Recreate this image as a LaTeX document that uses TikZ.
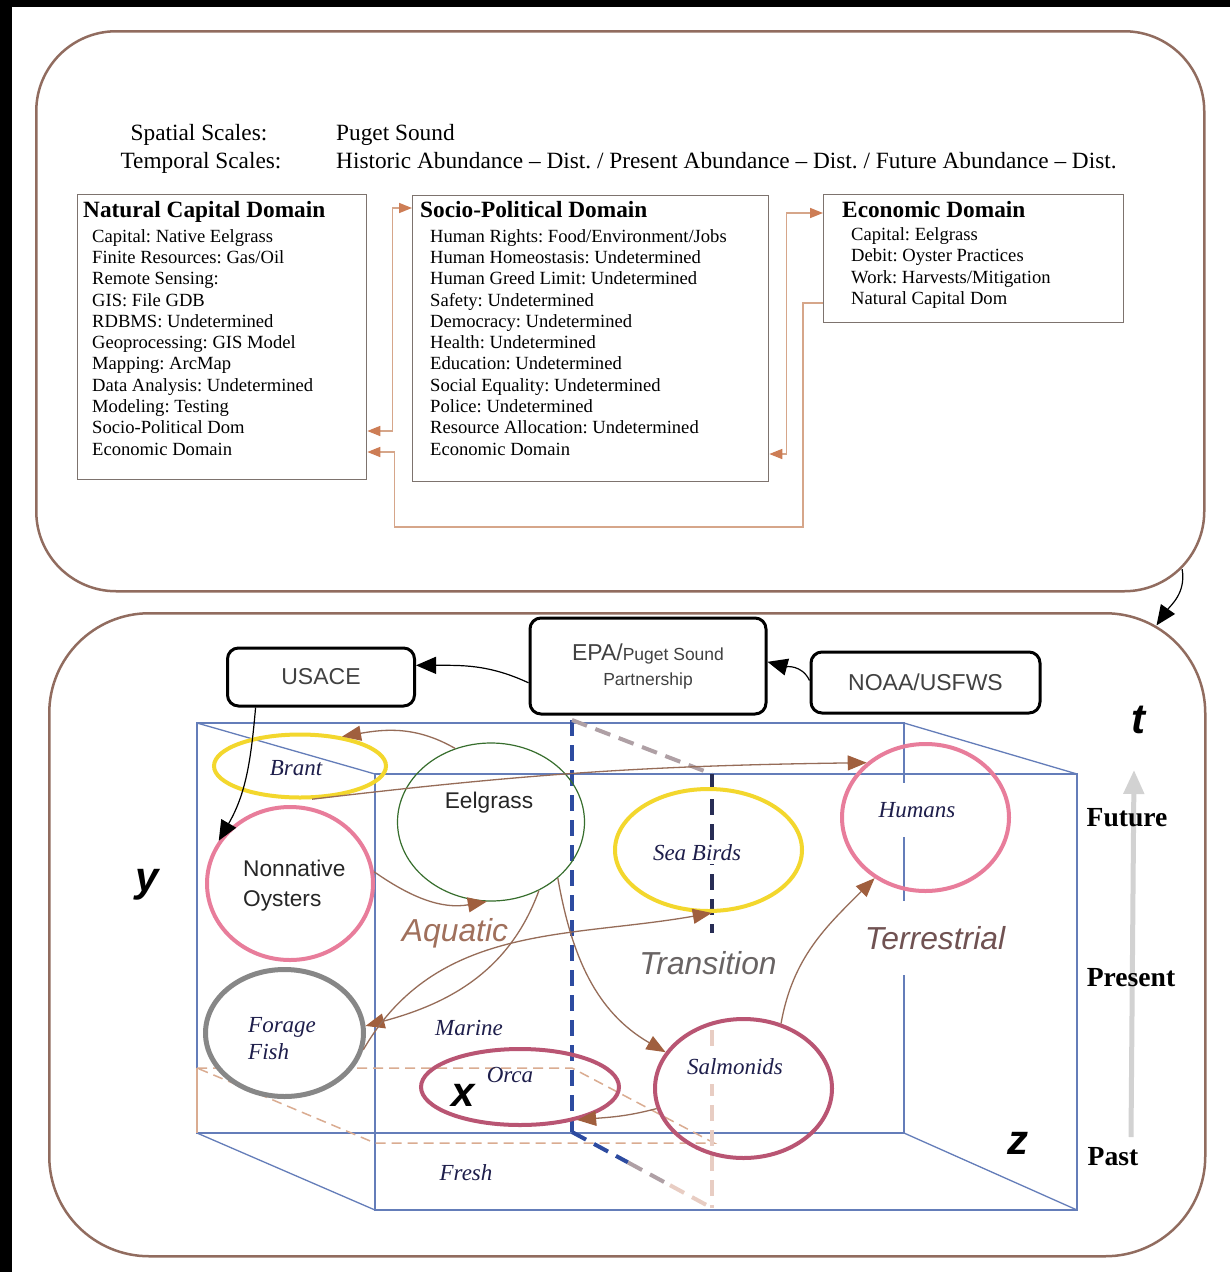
\documentclass[tikz,border=0pt]{standalone}
\usepackage{fontspec}
\setmainfont{Liberation Serif}
\setsansfont{Liberation Sans}
\frenchspacing
\usetikzlibrary{positioning, shapes.geometric, arrows.meta, calc}
\definecolor{PanelBrown}{RGB}{145,108,95}
\definecolor{DomGray}{RGB}{125,115,110}
\definecolor{TanLine}{RGB}{214,166,138}
\definecolor{TanHead}{RGB}{205,125,85}
\definecolor{AgencyText}{RGB}{65,65,65}
\definecolor{CubeBlue}{RGB}{100,125,185}
\definecolor{NavyDash}{RGB}{45,75,160}
\definecolor{DarkNavy}{RGB}{40,45,85}
\definecolor{DashGray}{RGB}{175,160,165}
\definecolor{DashPink}{RGB}{232,205,195}
\definecolor{WaterTan}{RGB}{218,172,145}
\definecolor{FlowBrown}{RGB}{150,108,88}
\definecolor{FlowHead}{RGB}{160,95,62}
\definecolor{BrantYellow}{RGB}{243,215,45}
\definecolor{RingPink}{RGB}{232,125,155}
\definecolor{RingMauve}{RGB}{185,85,115}
\definecolor{RingGray}{RGB}{135,135,135}
\definecolor{EelGreen}{RGB}{55,110,45}
\definecolor{LabelNavy}{RGB}{30,30,75}
\definecolor{AquaBrown}{RGB}{160,112,92}
\definecolor{TransGray}{RGB}{105,100,100}
\definecolor{TerrBrown}{RGB}{112,82,82}
\definecolor{TimeGray}{RGB}{210,210,210}
\newcommand{\domhead}[1]{{\fontsize{23.3}{26}\selectfont\bfseries #1}}

\begin{document}
\begin{tikzpicture}[x=1pt, y=-1pt,
      panel/.style={draw=PanelBrown, line width=2.5pt, inner sep=0pt, anchor=north west},
      dombox/.style={draw=DomGray, line width=1.3pt, inner sep=0pt, anchor=north west},
      domtext/.style={inner sep=0pt, align=left, font=\fontsize{18.6}{21.3}\selectfont},
      hdr/.style={inner sep=0pt, font=\fontsize{23.3}{28}\selectfont},
      tanlink/.style={draw=TanLine, line width=1.6pt},
      agency/.style={draw, line width=3pt, rounded corners=11pt, inner sep=0pt, text=AgencyText,
      font=\sffamily\fontsize{23}{28}\selectfont},
      blackarrow/.style={line width=1.2pt, -{Triangle[length=20pt, width=17pt]}},
      ring/.style={ellipse, draw=#1, line width=4pt, inner sep=0pt},
      flow/.style={draw=FlowBrown, line width=1.3pt, -{Triangle[length=19pt, width=15pt, color=FlowHead]}},
      cube/.style={draw=CubeBlue, line width=1.3pt},
      tdash/.style={line width=4pt, dash pattern=on 16pt off 9pt},
      waterdash/.style={draw=WaterTan, line width=1.5pt, dash pattern=on 10pt off 6pt},
      serlab/.style={inner sep=0pt, text=LabelNavy, font=\fontsize{23}{27}\selectfont\itshape},
      sanslab/.style={inner sep=0pt, text=black!85, font=\sffamily\fontsize{22.7}{30}\selectfont},
      zonelab/.style={inner sep=1pt, font=\sffamily\itshape\fontsize{31.8}{34}\selectfont},
      axislab/.style={inner sep=0pt, font=\sffamily\bfseries\itshape\fontsize{42}{42}\selectfont},
      timelab/.style={inner sep=0pt, font=\bfseries\fontsize{27.6}{30}\selectfont},
      timearrow/.style={draw=TimeGray, line width=5pt, -{Triangle[length=24pt, width=20pt]}}
    ]
      \useasboundingbox (0,0) rectangle (1230,1272);
      \fill[black] (0,0) rectangle (1230,1272);
      \fill[white] (12,7) rectangle (1230,1272);

      % two panels
      \node[panel, rounded corners=80pt, minimum width=1168, minimum height=560] (toppanel) at (35,30) {};
      \node[panel, rounded corners=100pt, minimum width=1156, minimum height=643] (botpanel) at (48,612) {};
      \coordinate (topexit) at ($(toppanel.south east)+(-23.4,-23.4)$);
      \coordinate (botentry) at ($(botpanel.north east)+(-50,13.4)$);
      \draw[blackarrow] (topexit) to[out=-80, in=55] (botentry);

      % scales
      \node[hdr, anchor=base] (spatial) at (199,140) {Spatial Scales:};
      \node[hdr, anchor=base west] (spatialval) at (336,140) {Puget Sound};
      \node[hdr, anchor=base] (temporal) at (201,168) {Temporal Scales:};
      \node[hdr, anchor=base west] (temporalval) at (336,168)
        {Historic Abundance -- Dist. / Present Abundance -- Dist. / Future Abundance -- Dist.};

      % domains
      \node[dombox, minimum width=289, minimum height=285] (nat) at (77,194) {};
      \node[dombox, minimum width=356, minimum height=286] (soc) at (412,195) {};
      \node[dombox, minimum width=300, minimum height=128] (econ) at (823,194) {};
      \node[domtext, below right=7.3pt and 6pt of nat.north west] (nattext) {\domhead{Natural Capital Domain}\\[3.2pt]
        \hspace*{9pt}Capital: Native Eelgrass\\
        \hspace*{9pt}Finite Resources: Gas/Oil\\
        \hspace*{9pt}Remote Sensing:\\
        \hspace*{9pt}GIS: File GDB\\
        \hspace*{9pt}RDBMS: Undetermined\\
        \hspace*{9pt}Geoprocessing: GIS Model\\
        \hspace*{9pt}Mapping: ArcMap\\
        \hspace*{9pt}Data Analysis: Undetermined\\
        \hspace*{9pt}Modeling: Testing\\
        \hspace*{9pt}Socio-Political Dom\\
        \hspace*{9pt}Economic Domain};
      \node[domtext, below right=6.3pt and 8pt of soc.north west] (soctext) {\domhead{Socio-Political Domain}\\[3.2pt]
        \hspace*{10pt}Human Rights: Food/Environment/Jobs\\
        \hspace*{10pt}Human Homeostasis: Undetermined\\
        \hspace*{10pt}Human Greed Limit: Undetermined\\
        \hspace*{10pt}Safety: Undetermined\\
        \hspace*{10pt}Democracy: Undetermined\\
        \hspace*{10pt}Health: Undetermined\\
        \hspace*{10pt}Education: Undetermined\\
        \hspace*{10pt}Social Equality: Undetermined\\
        \hspace*{10pt}Police: Undetermined\\
        \hspace*{10pt}Resource Allocation: Undetermined\\
        \hspace*{10pt}Economic Domain};
      \node[domtext, below right=7.3pt and 19pt of econ.north west] (econtext) {\domhead{Economic Domain}\\[1.5pt]
        \hspace*{9pt}Capital: Eelgrass\\
        \hspace*{9pt}Debit: Oyster Practices\\
        \hspace*{9pt}Work: Harvests/Mitigation\\
        \hspace*{9pt}Natural Capital Dom};

      \draw[tanlink, {Triangle[length=13pt, width=10pt, color=TanHead]}-{Triangle[length=13pt, width=10pt, color=TanHead]}]
        ($(nat.north east)+(0,237)$) -- ++(25,0) |- ($(soc.north west)+(0,13)$);
      \draw[tanlink, {Triangle[length=13pt, width=10pt, color=TanHead]}-{Triangle[length=13pt, width=10pt, color=TanHead]}]
        ($(soc.north east)+(0,259)$) -- ++(17,0) |- ($(econ.north west)+(0,19)$);
      \draw[tanlink, -{Triangle[length=13pt, width=10pt, color=TanHead]}]
        ($(econ.north west)+(0,109)$) -- ++(-20,0) -- ++(0,224) -| ($(nat.north east)+(27,258)$) -- ($(nat.north east)+(0,258)$);

      % box of habitats
      \coordinate (bk1) at (197,723);
      \coordinate (bk2) at (904,723);
      \coordinate (bk3) at (904,1133);
      \coordinate (bk4) at (197,1133);
      \coordinate (fr1) at (375,774);
      \coordinate (fr2) at (1077,774);
      \coordinate (fr3) at (1077,1210);
      \coordinate (fr4) at (375,1210);
      \draw[cube] (bk1) -- (bk2) -- (bk3) -- (bk4) -- cycle;
      \draw[cube] (fr1) -- (fr2) -- (fr3) -- (fr4) -- cycle;
      \foreach \c in {1,...,4}
        \draw[cube] (bk\c) -- (fr\c);

      % water plane
      \draw[waterdash] (197,1068) -- (572,1068) -- (714,1143) -- (375,1143) -- cycle;
      \draw[draw=WaterTan, line width=1.3pt] (197,1068) -- (bk4);

      % transition plane
      \coordinate (tr1) at (572,720);
      \coordinate (tr2) at (712,774);
      \coordinate (tr3) at (712,1208);
      \coordinate (tr4) at (572,1132);
      \draw[tdash, draw=NavyDash] (tr1) -- (tr4);
      \draw[tdash, draw=DashGray] (tr1) -- (tr2);
      \draw[tdash, draw=DarkNavy] (tr2) -- (712,935);
      \draw[tdash, draw=DashPink] (712,1030) -- (tr3);
      \draw[tdash, draw=NavyDash] (tr4) -- ($(tr4)!0.4!(tr3)$);
      \draw[tdash, draw=DashGray] ($(tr4)!0.4!(tr3)$) -- ($(tr4)!0.7!(tr3)$);
      \draw[tdash, draw=DashPink] ($(tr4)!0.7!(tr3)$) -- (tr3);

      % species
      \node[ring=BrantYellow, minimum width=172, minimum height=63] (brant) at (300,766) {};
      \node[ellipse, draw=EelGreen, line width=1.2pt, minimum width=187, minimum height=158] (eel) at (491,822) {};
      \node[ring=RingPink, minimum width=166, minimum height=153] (oys) at (290,883.5) {};
      \node[ring=RingGray, line width=5pt, fill=white, minimum width=158, minimum height=127] (forage) at (284.5,1033) {};
      \node[ring=BrantYellow, minimum width=187, minimum height=122] (seabird) at (708.5,850) {};
      \node[ring=RingPink, minimum width=167, minimum height=147] (humans) at (925.5,817.5) {};
      \node[ring=RingMauve, minimum width=177, minimum height=139] (salm) at (743.5,1088.5) {};
      \node[ring=RingMauve, minimum width=198, minimum height=76] (orca) at (520,1087) {};

      % agencies
      \node[agency, minimum width=187, minimum height=58] (usace) at (321,677) {USACE};
      \node[agency, minimum width=236, minimum height=96, align=center,
        font=\sffamily\fontsize{17.5}{25}\selectfont] (epa) at (648,666) {{\fontsize{23}{25}\selectfont EPA/}Puget Sound\\Partnership};
      \node[agency, minimum width=229, minimum height=61] (noaa) at (925.5,682.5) {NOAA/USFWS};

      \draw[blackarrow] (epa.188) to[out=155, in=0] (usace.7);
      \draw[blackarrow] (noaa.179) to[out=115, in=-15] (epa.2);
      \draw[blackarrow] (usace.205) to[out=-95, in=60] (oys.149);

      % links between species
      \draw[flow] (eel.116) to[out=150, in=10] (brant.35);
      \draw[flow] (brant.-70) to[bend left=3] (humans.137);
      \draw[flow] (oys.8) to[out=-35, in=190] (eel.-93);
      \draw[flow] (eel.-55) to[out=-110, in=15] (forage.5);
      \draw[flow] (forage.-12) to[out=60, in=190] (seabird.-87);
      \draw[flow] (eel.-40) to[out=-80, in=150] (salm.155);
      \draw[flow] (salm.60) to[out=80, in=-135] (humans.-130);
      \draw[flow] (salm.193) to[out=195, in=5] (orca.-30);

      % labels
      \node[serlab] (brantlab) at (296,768) {Brant};
      \node[sanslab] (eellab) at (489,803) {Eelgrass};
      \node[sanslab, align=left, anchor=west] (oyslab) at (243,886) {Nonnative\\Oysters};
      \node[serlab, align=left, anchor=west] (foragelab) at (248,1039) {Forage\\Fish};
      \node[serlab, fill=white, inner sep=3pt] (seabirdlab) at (697,853) {Sea Birds};
      \node[serlab, fill=white, inner xsep=2pt, minimum height=54] (humanslab) at (917,810) {Humans};
      \node[serlab, fill=white, inner xsep=2pt, inner ysep=9pt] (salmlab) at (735,1067) {Salmonids};
      \node[serlab] (orcalab) at (510,1075) {Orca};
      \node[serlab] (marine) at (469,1028) {Marine};
      \node[serlab] (fresh) at (466,1173) {Fresh};
      \node[zonelab, text=AquaBrown] (aquatic) at (455,933) {Aquatic};
      \node[zonelab, text=TransGray, fill=white, minimum height=60] (transition) at (708,963) {Transition};
      \node[zonelab, text=TerrBrown, fill=white, minimum height=74] (terrestrial) at (935,938) {Terrestrial};

      % axes and time
      \node[axislab] (taxis) at (1138,720) {t};
      \node[axislab] (yaxis) at (147,885) {y};
      \node[axislab] (xaxis) at (463,1095) {x};
      \node[axislab] (zaxis) at (1018,1143) {z};
      \coordinate (tpast) at (1131,1137);
      \coordinate (tfuture) at (1134,770);
      \draw[timearrow] (tpast) -- (tfuture);
      \node[timelab] (future) at (1127,818) {Future};
      \node[timelab] (present) at (1131,978) {Present};
      \node[timelab] (past) at (1113,1157) {Past};
    \end{tikzpicture}
\end{document}
